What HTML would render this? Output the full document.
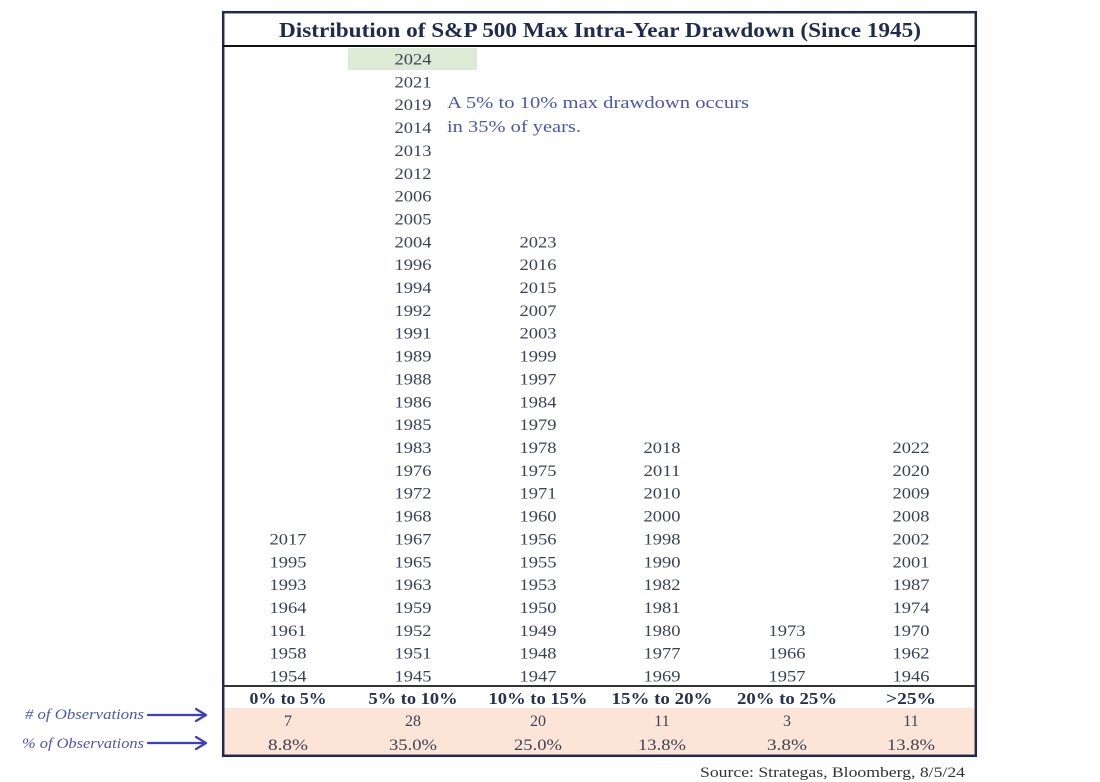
<!DOCTYPE html>
<html>
<head>
<meta charset="utf-8">
<style>
html,body{margin:0;padding:0;background:#fff;}
svg{display:block;}
.yr{font-family:"Liberation Serif",serif;font-size:16px;fill:#3b4256;text-anchor:middle;}
.hd{font-family:"Liberation Serif",serif;font-size:16.5px;font-weight:bold;fill:#28304f;text-anchor:middle;}
.nm{font-family:"Liberation Serif",serif;font-size:16px;fill:#3b4256;text-anchor:middle;}
.ann{font-family:"Liberation Serif",serif;font-size:17px;fill:#4a56b8;}
.lbl{font-family:"Liberation Serif",serif;font-size:15px;font-style:italic;fill:#4a56b8;}
</style>
</head>
<body>
<svg width="1100" height="782" viewBox="0 0 1100 782" xmlns="http://www.w3.org/2000/svg">
<rect x="0" y="0" width="1100" height="782" fill="#fff"/>
<!-- pink area -->
<rect x="224" y="708" width="751" height="47" fill="#fce4d6"/>
<!-- green highlight -->
<rect x="348" y="48" width="129" height="22" fill="#dcebd5"/>
<!-- outer box -->
<rect x="223.2" y="12.2" width="752.6" height="743.6" fill="none" stroke="#1f2a4e" stroke-width="2.5"/>
<line x1="223" y1="46" x2="976" y2="46" stroke="#111" stroke-width="2"/>
<line x1="223" y1="686" x2="976" y2="686" stroke="#333" stroke-width="2"/>
<!-- title -->
<text x="600" y="37" text-anchor="middle" font-family="Liberation Serif, serif" font-size="21" font-weight="bold" fill="#1f2a4e" textLength="642" lengthAdjust="spacingAndGlyphs">Distribution of S&amp;P 500 Max Intra-Year Drawdown (Since 1945)</text>

<!-- column 1 (rows 21..27) -->
<g class="yr">
<text x="288" y="544.4" textLength="37" lengthAdjust="spacingAndGlyphs">2017</text>
<text x="288" y="567.3" textLength="37" lengthAdjust="spacingAndGlyphs">1995</text>
<text x="288" y="590.1" textLength="37" lengthAdjust="spacingAndGlyphs">1993</text>
<text x="288" y="613.0" textLength="37" lengthAdjust="spacingAndGlyphs">1964</text>
<text x="288" y="635.8" textLength="37" lengthAdjust="spacingAndGlyphs">1961</text>
<text x="288" y="658.7" textLength="37" lengthAdjust="spacingAndGlyphs">1958</text>
<text x="288" y="681.5" textLength="37" lengthAdjust="spacingAndGlyphs">1954</text>
</g>

<!-- column 2 (rows 0..27) -->
<g class="yr">
<text x="413" y="64.5" textLength="37" lengthAdjust="spacingAndGlyphs">2024</text>
<text x="413" y="87.4" textLength="37" lengthAdjust="spacingAndGlyphs">2021</text>
<text x="413" y="110.2" textLength="37" lengthAdjust="spacingAndGlyphs">2019</text>
<text x="413" y="133.1" textLength="37" lengthAdjust="spacingAndGlyphs">2014</text>
<text x="413" y="155.9" textLength="37" lengthAdjust="spacingAndGlyphs">2013</text>
<text x="413" y="178.8" textLength="37" lengthAdjust="spacingAndGlyphs">2012</text>
<text x="413" y="201.6" textLength="37" lengthAdjust="spacingAndGlyphs">2006</text>
<text x="413" y="224.5" textLength="37" lengthAdjust="spacingAndGlyphs">2005</text>
<text x="413" y="247.3" textLength="37" lengthAdjust="spacingAndGlyphs">2004</text>
<text x="413" y="270.2" textLength="37" lengthAdjust="spacingAndGlyphs">1996</text>
<text x="413" y="293.0" textLength="37" lengthAdjust="spacingAndGlyphs">1994</text>
<text x="413" y="315.9" textLength="37" lengthAdjust="spacingAndGlyphs">1992</text>
<text x="413" y="338.7" textLength="37" lengthAdjust="spacingAndGlyphs">1991</text>
<text x="413" y="361.6" textLength="37" lengthAdjust="spacingAndGlyphs">1989</text>
<text x="413" y="384.4" textLength="37" lengthAdjust="spacingAndGlyphs">1988</text>
<text x="413" y="407.3" textLength="37" lengthAdjust="spacingAndGlyphs">1986</text>
<text x="413" y="430.1" textLength="37" lengthAdjust="spacingAndGlyphs">1985</text>
<text x="413" y="453.0" textLength="37" lengthAdjust="spacingAndGlyphs">1983</text>
<text x="413" y="475.8" textLength="37" lengthAdjust="spacingAndGlyphs">1976</text>
<text x="413" y="498.7" textLength="37" lengthAdjust="spacingAndGlyphs">1972</text>
<text x="413" y="521.5" textLength="37" lengthAdjust="spacingAndGlyphs">1968</text>
<text x="413" y="544.4" textLength="37" lengthAdjust="spacingAndGlyphs">1967</text>
<text x="413" y="567.3" textLength="37" lengthAdjust="spacingAndGlyphs">1965</text>
<text x="413" y="590.1" textLength="37" lengthAdjust="spacingAndGlyphs">1963</text>
<text x="413" y="613.0" textLength="37" lengthAdjust="spacingAndGlyphs">1959</text>
<text x="413" y="635.8" textLength="37" lengthAdjust="spacingAndGlyphs">1952</text>
<text x="413" y="658.7" textLength="37" lengthAdjust="spacingAndGlyphs">1951</text>
<text x="413" y="681.5" textLength="37" lengthAdjust="spacingAndGlyphs">1945</text>
</g>

<!-- column 3 (rows 8..27) -->
<g class="yr">
<text x="538" y="247.3" textLength="37" lengthAdjust="spacingAndGlyphs">2023</text>
<text x="538" y="270.2" textLength="37" lengthAdjust="spacingAndGlyphs">2016</text>
<text x="538" y="293.0" textLength="37" lengthAdjust="spacingAndGlyphs">2015</text>
<text x="538" y="315.9" textLength="37" lengthAdjust="spacingAndGlyphs">2007</text>
<text x="538" y="338.7" textLength="37" lengthAdjust="spacingAndGlyphs">2003</text>
<text x="538" y="361.6" textLength="37" lengthAdjust="spacingAndGlyphs">1999</text>
<text x="538" y="384.4" textLength="37" lengthAdjust="spacingAndGlyphs">1997</text>
<text x="538" y="407.3" textLength="37" lengthAdjust="spacingAndGlyphs">1984</text>
<text x="538" y="430.1" textLength="37" lengthAdjust="spacingAndGlyphs">1979</text>
<text x="538" y="453.0" textLength="37" lengthAdjust="spacingAndGlyphs">1978</text>
<text x="538" y="475.8" textLength="37" lengthAdjust="spacingAndGlyphs">1975</text>
<text x="538" y="498.7" textLength="37" lengthAdjust="spacingAndGlyphs">1971</text>
<text x="538" y="521.5" textLength="37" lengthAdjust="spacingAndGlyphs">1960</text>
<text x="538" y="544.4" textLength="37" lengthAdjust="spacingAndGlyphs">1956</text>
<text x="538" y="567.3" textLength="37" lengthAdjust="spacingAndGlyphs">1955</text>
<text x="538" y="590.1" textLength="37" lengthAdjust="spacingAndGlyphs">1953</text>
<text x="538" y="613.0" textLength="37" lengthAdjust="spacingAndGlyphs">1950</text>
<text x="538" y="635.8" textLength="37" lengthAdjust="spacingAndGlyphs">1949</text>
<text x="538" y="658.7" textLength="37" lengthAdjust="spacingAndGlyphs">1948</text>
<text x="538" y="681.5" textLength="37" lengthAdjust="spacingAndGlyphs">1947</text>
</g>

<!-- column 4 (rows 17..27) -->
<g class="yr">
<text x="662" y="453.0" textLength="37" lengthAdjust="spacingAndGlyphs">2018</text>
<text x="662" y="475.8" textLength="37" lengthAdjust="spacingAndGlyphs">2011</text>
<text x="662" y="498.7" textLength="37" lengthAdjust="spacingAndGlyphs">2010</text>
<text x="662" y="521.5" textLength="37" lengthAdjust="spacingAndGlyphs">2000</text>
<text x="662" y="544.4" textLength="37" lengthAdjust="spacingAndGlyphs">1998</text>
<text x="662" y="567.3" textLength="37" lengthAdjust="spacingAndGlyphs">1990</text>
<text x="662" y="590.1" textLength="37" lengthAdjust="spacingAndGlyphs">1982</text>
<text x="662" y="613.0" textLength="37" lengthAdjust="spacingAndGlyphs">1981</text>
<text x="662" y="635.8" textLength="37" lengthAdjust="spacingAndGlyphs">1980</text>
<text x="662" y="658.7" textLength="37" lengthAdjust="spacingAndGlyphs">1977</text>
<text x="662" y="681.5" textLength="37" lengthAdjust="spacingAndGlyphs">1969</text>
</g>

<!-- column 5 (rows 25..27) -->
<g class="yr">
<text x="787" y="635.8" textLength="37" lengthAdjust="spacingAndGlyphs">1973</text>
<text x="787" y="658.7" textLength="37" lengthAdjust="spacingAndGlyphs">1966</text>
<text x="787" y="681.5" textLength="37" lengthAdjust="spacingAndGlyphs">1957</text>
</g>

<!-- column 6 (rows 17..27) -->
<g class="yr">
<text x="911" y="453.0" textLength="37" lengthAdjust="spacingAndGlyphs">2022</text>
<text x="911" y="475.8" textLength="37" lengthAdjust="spacingAndGlyphs">2020</text>
<text x="911" y="498.7" textLength="37" lengthAdjust="spacingAndGlyphs">2009</text>
<text x="911" y="521.5" textLength="37" lengthAdjust="spacingAndGlyphs">2008</text>
<text x="911" y="544.4" textLength="37" lengthAdjust="spacingAndGlyphs">2002</text>
<text x="911" y="567.3" textLength="37" lengthAdjust="spacingAndGlyphs">2001</text>
<text x="911" y="590.1" textLength="37" lengthAdjust="spacingAndGlyphs">1987</text>
<text x="911" y="613.0" textLength="37" lengthAdjust="spacingAndGlyphs">1974</text>
<text x="911" y="635.8" textLength="37" lengthAdjust="spacingAndGlyphs">1970</text>
<text x="911" y="658.7" textLength="37" lengthAdjust="spacingAndGlyphs">1962</text>
<text x="911" y="681.5" textLength="37" lengthAdjust="spacingAndGlyphs">1946</text>
</g>

<!-- annotation -->
<text class="ann" x="447" y="108" textLength="302" lengthAdjust="spacingAndGlyphs">A 5% to 10% max drawdown occurs</text>
<text class="ann" x="447" y="132" textLength="134" lengthAdjust="spacingAndGlyphs">in 35% of years.</text>

<!-- headers -->
<g class="hd">
<text x="288" y="704" textLength="77" lengthAdjust="spacingAndGlyphs">0% to 5%</text>
<text x="413" y="704" textLength="89" lengthAdjust="spacingAndGlyphs">5% to 10%</text>
<text x="538" y="704" textLength="99" lengthAdjust="spacingAndGlyphs">10% to 15%</text>
<text x="662" y="704" textLength="101" lengthAdjust="spacingAndGlyphs">15%  to 20%</text>
<text x="787" y="704" textLength="100" lengthAdjust="spacingAndGlyphs">20% to 25%</text>
<text x="911" y="704" textLength="50" lengthAdjust="spacingAndGlyphs">&gt;25%</text>
</g>

<!-- counts -->
<g class="nm">
<text x="288" y="726">7</text>
<text x="413" y="726">28</text>
<text x="538" y="726">20</text>
<text x="662" y="726">11</text>
<text x="787" y="726">3</text>
<text x="911" y="726">11</text>
<text x="288" y="750" textLength="40" lengthAdjust="spacingAndGlyphs">8.8%</text>
<text x="413" y="750" textLength="48" lengthAdjust="spacingAndGlyphs">35.0%</text>
<text x="538" y="750" textLength="48" lengthAdjust="spacingAndGlyphs">25.0%</text>
<text x="662" y="750" textLength="48" lengthAdjust="spacingAndGlyphs">13.8%</text>
<text x="787" y="750" textLength="40" lengthAdjust="spacingAndGlyphs">3.8%</text>
<text x="911" y="750" textLength="48" lengthAdjust="spacingAndGlyphs">13.8%</text>
</g>

<!-- left labels -->
<text class="lbl" x="25" y="719" textLength="119" lengthAdjust="spacingAndGlyphs"># of Observations</text>
<text class="lbl" x="22" y="748" textLength="122" lengthAdjust="spacingAndGlyphs">% of Observations</text>
<g stroke="#3a3fc4" stroke-width="2.2" fill="none" stroke-linecap="round" stroke-linejoin="round">
<line x1="148" y1="715" x2="205" y2="715"/>
<polyline points="196,709 206,715 196,721"/>
<line x1="148" y1="743" x2="205" y2="743"/>
<polyline points="196,737 206,743 196,749"/>
</g>

<!-- source -->
<text x="700" y="777" font-family="Liberation Serif, serif" font-size="15" fill="#333" textLength="265" lengthAdjust="spacingAndGlyphs">Source: Strategas, Bloomberg, 8/5/24</text>
</svg>
</body>
</html>
